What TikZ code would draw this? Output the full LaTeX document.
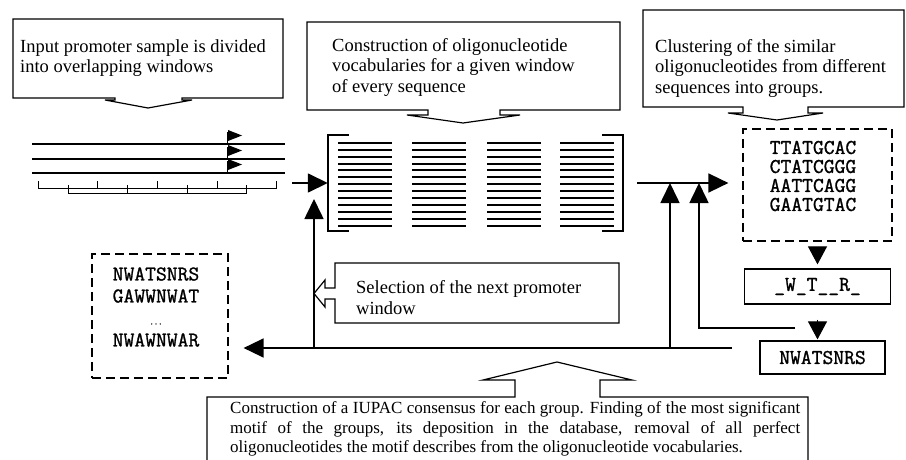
\documentclass[tikz,border=0pt]{standalone}
\usepackage{fontspec}
\setmainfont{Liberation Serif}
\newfontfamily\seqfont{Latin Modern Mono}[FakeBold=1.2]
\usetikzlibrary{arrows.meta}

\begin{document}
\begin{tikzpicture}[x=1pt,y=-1pt,
    txt/.style={anchor=west,align=left,inner sep=0pt,font=\fontsize{18.5}{20.5}\selectfont},
    seq/.style={align=center,inner sep=0pt,font=\seqfont\fontsize{21}{19}\selectfont},
    box/.style={draw,line width=1.2pt,inner sep=0pt},
    dbox/.style={box,dash pattern=on 9pt off 5pt},
    co/.style={line width=1.2pt},
    flow/.style={line width=1.6pt,-{Triangle[length=20pt,width=19pt]}},
    tip/.style={line width=1pt,-{Triangle[length=18pt,width=19pt]}}]
    \useasboundingbox (0,0) rectangle (906,460);

    % callouts
    \draw[co] (13,19) -- (283,19) -- (283,98) -- (182,98) -- (182,100) -- (192,100) -- (148,108)
        -- (105,100) -- (115,100) -- (115,98) -- (13,98) -- cycle;
    \node at (20,58) [txt] (t1) {Input promoter sample is divided\\into overlapping windows};
    \draw[co] (307,22) -- (620,22) -- (620,110) -- (500,110) -- (500,115) -- (520,115) -- (463,123)
        -- (407,115) -- (428,115) -- (428,110) -- (307,110) -- cycle;
    \node at (332,67) [txt] (t2) {Construction of oligonucleotide\\vocabularies for a given window\\of every sequence};
    \draw[co] (643,10) -- (904,10) -- (904,107) -- (808,107) -- (808,113) -- (823,113) -- (777,120)
        -- (728,113) -- (743,113) -- (743,107) -- (643,107) -- cycle;
    \node at (655,68) [txt] (t3) {Clustering of the similar\\oligonucleotides from different\\sequences into groups.};
    \draw[co] (335,263) -- (619,263) -- (619,323) -- (335,323) -- (335,299) -- (325,299) -- (325,307)
        -- (314,293.5) -- (325,280) -- (325,288) -- (335,288) -- cycle;
    \node at (356,297.5) [txt] (t4) {Selection of the next promoter\\window};
    \draw[co] (207,397) -- (515,397) -- (515,380) -- (483,380) -- (557,362) -- (632,380) -- (600,380)
        -- (600,397) -- (808,397) -- (808,470) -- (207,470) -- cycle;
    \node at (230,429) [txt,text width=570pt,align=justify,font=\fontsize{17}{19.5}\selectfont] (t5)
        {Construction of a IUPAC consensus for each group. Finding of the most significant\linebreak
         motif of the groups, its deposition in the database, removal of all perfect\linebreak
         oligonucleotides the motif describes from the oligonucleotide vocabularies.};

    % promoter sequences and windows
    \foreach \y in {144,159,173} {
        \draw[line width=1.8pt] (32,\y) -- (285,\y);
        \draw[line width=1pt] (227,\y) -- (227,\y-12);
        \fill (228,\y-14) -- (242,\y-8.5) -- (228,\y-3) -- cycle;
    }
    \draw[line width=0.7pt] (38,181) -- (38,188) -- (276,188) -- (276,181);
    \foreach \x in {97,157,217} \draw[line width=0.7pt] (\x,181) -- (\x,188);
    \draw[line width=0.7pt] (68,185) -- (68,193) -- (246,193) -- (246,185);
    \foreach \x in {127,187} \draw[line width=0.7pt] (\x,185) -- (\x,193);

    % vocabularies
    \node at (475.5,183) [minimum width=295pt,minimum height=96pt,inner sep=0pt] (voc) {};
    \draw[line width=1.6pt] ([xshift=21pt]voc.north west) -- (voc.north west) -- (voc.south west) -- ++(21,0);
    \draw[line width=1.6pt] ([xshift=-21pt]voc.north east) -- (voc.north east) -- (voc.south east) -- ++(-21,0);
    \foreach \c in {338,412,487,560}
        \foreach \i in {0,...,12}
            \draw[line width=2pt] (\c,142.7+6.94*\i) -- (\c+54,142.7+6.94*\i);

    % motif boxes
    \node at (817.5,185) [dbox,minimum width=149pt,minimum height=112pt] (clu) {};
    \node at (813,176) [seq] (cluseq) {TTATGCAC\\CTATCGGG\\AATTCAGG\\GAATGTAC};
    \node at (817.5,286.5) [box,seq,minimum width=146pt,minimum height=35pt] (wtr) {\_W\_T\_\_R\_};
    \node at (822.5,357.5) [box,seq,minimum width=125pt,minimum height=33pt] (nwa) {NWATSNRS};
    \node at (160,316) [dbox,minimum width=136pt,minimum height=124pt] (res) {};
    \node at (156,307) [seq,font=\seqfont\fontsize{21}{22}\selectfont] (resseq)
        {NWATSNRS\\GAWWNWAT\\{\fontsize{8}{8}\selectfont...}\\NWAWNWAR};

    % connectors
    \coordinate (s0) at (292,183);
    \coordinate (j1) at (670,183);
    \coordinate (j2) at (699,183);
    \coordinate (br) at (795,328);
    \coordinate (lp) at (732,348);
    \draw[flow] (s0) -- (voc.west);
    \draw[flow] ([xshift=14pt]voc.east) -- ([xshift=-14pt]clu.west |- voc.east);
    \draw[tip] ([yshift=-6pt]clu.south) -- ([yshift=4pt]wtr.north);
    \draw[tip] ([yshift=-15pt]wtr.south) -- ([yshift=1pt]wtr.south |- nwa.north);
    \draw[flow] (br) -| (j2);
    \draw[flow] (j1 |- lp) -- (j1);
    \draw[flow] (lp) -- ([xshift=15pt]res.east |- lp);
    \draw[flow] (314,348) -- ([yshift=-16pt]voc.west -| 314,0);
\end{tikzpicture}
\end{document}
